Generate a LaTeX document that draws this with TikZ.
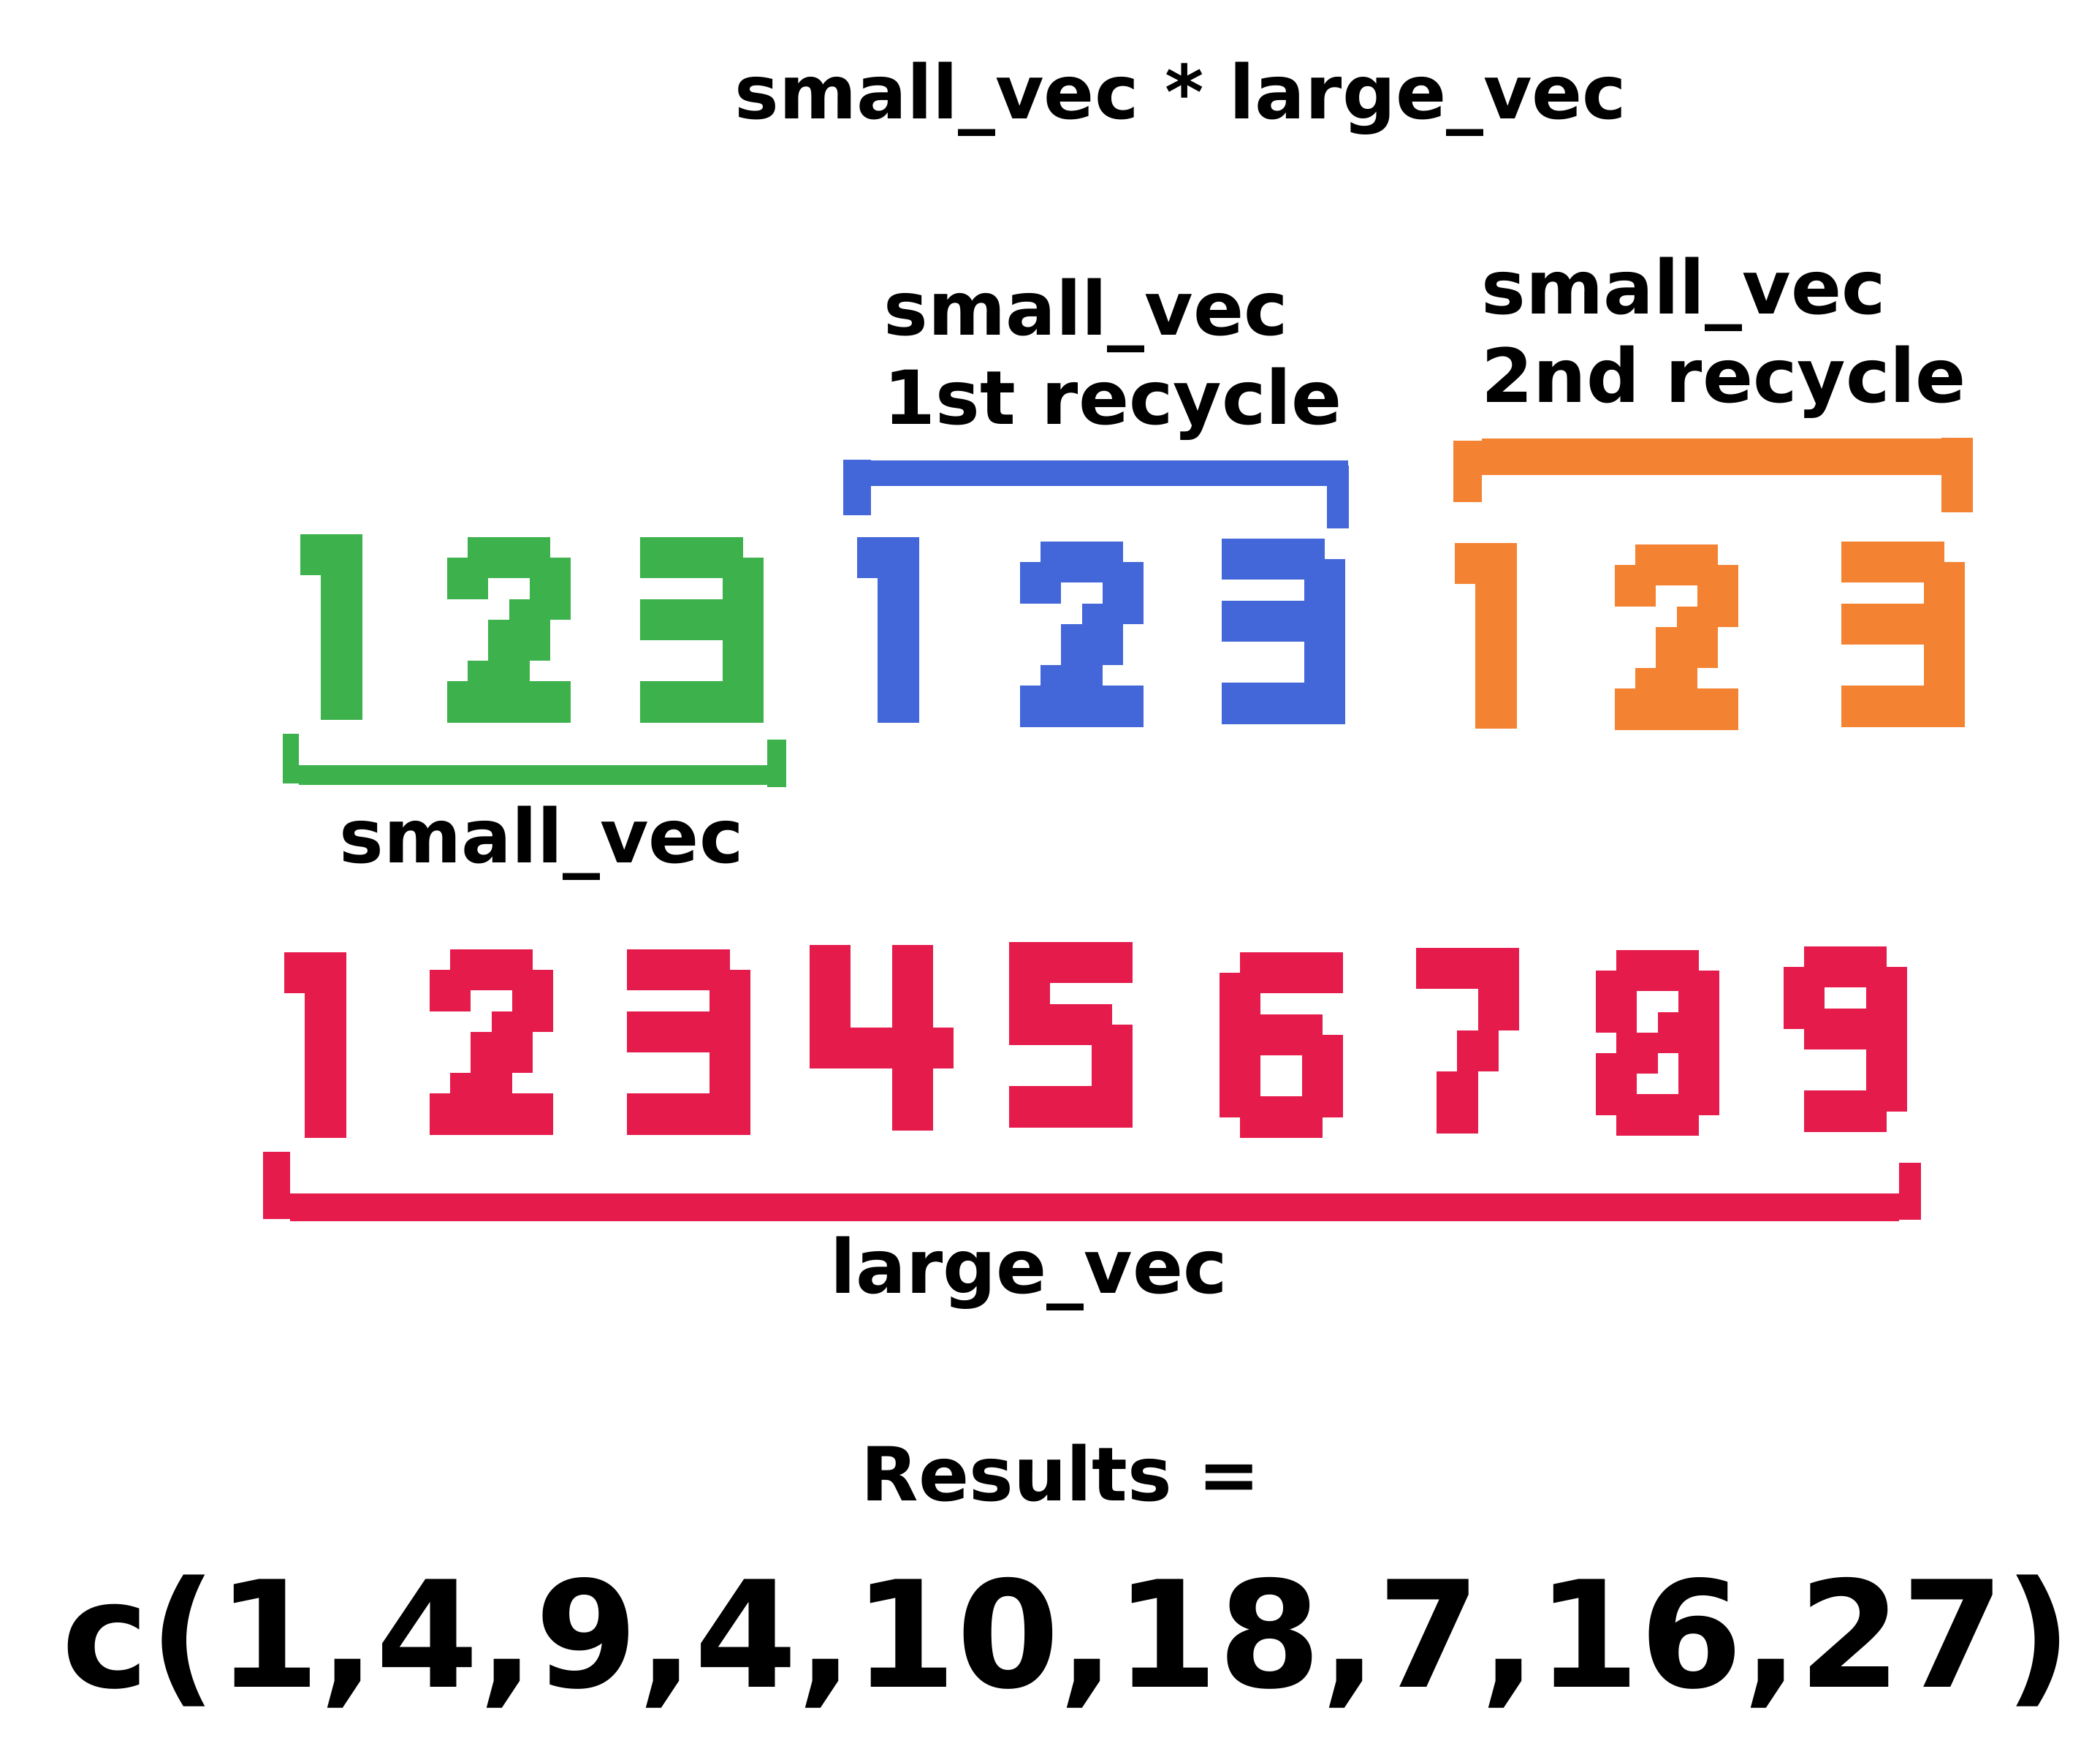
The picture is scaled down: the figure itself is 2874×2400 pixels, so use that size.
\documentclass[tikz,border=0pt]{standalone}
\usepackage{fontspec}
\setmainfont{DejaVu Sans}

\definecolor{vgreen}{RGB}{60,177,76}
\definecolor{vblue}{RGB}{67,102,216}
\definecolor{vorange}{RGB}{243,131,50}
\definecolor{vred}{RGB}{229,27,76}

\newcommand{\pixsz}{28.2}
\def\digone{0/0/3/2,1/2/3/9}
\def\digtwo{1/0/5/1,0/1/6/2,0/2/2/3,4/2/6/3,3/3/6/4,2/4/5/6,1/6/4/7,0/7/6/9}
\def\digthree{0/0/5/1,0/1/6/2,4/2/6/3,0/3/6/5,4/5/6/7,0/7/6/9}
\def\digfour{0/0/2/6,4/0/6/9,0/4/7/6}
\def\digfive{0/0/6/2,0/2/2/3,0/3/5/4,0/4/6/5,4/5/6/7,0/7/6/9}
\def\digsix{1/0/6/1,0/1/6/2,0/2/2/3,0/3/5/4,0/4/6/5,0/5/2/7,4/5/6/7,0/7/6/8,1/8/5/9}
\def\digseven{0/0/5/2,3/2/5/4,2/4/4/6,1/6/3/9}
\def\digeight{1/0/5/1,0/1/6/2,0/2/2/3,4/2/6/3,0/3/2/4,3/3/6/4,1/4/6/5,0/5/3/6,4/5/6/6,0/6/2/7,4/6/6/7,0/7/6/8,1/8/5/9}
\def\dignine{1/0/5/1,0/1/6/2,0/2/2/3,4/2/6/3,0/3/6/4,1/4/6/5,4/5/6/7,1/7/6/8,1/8/5/9}

\newcommand{\pixdigit}[4]{%
 \begin{scope}[shift={(#1,#2)}]
  \foreach \xa/\ya/\xb/\yb in #4 {\fill[#3] (\xa*\pixsz,\ya*\pixsz) rectangle (\xb*\pixsz,\yb*\pixsz);}
 \end{scope}}

\tikzset{
 lab/.style={font=\bfseries\fontsize{25.5}{30}\selectfont,inner sep=0pt},
 biglab/.style={font=\bfseries\fontsize{50.6}{60}\selectfont,inner sep=0pt}
}

\begin{document}
\begin{tikzpicture}[x=0.25pt,y=-0.25pt]
 \useasboundingbox (0,0) rectangle (2874,2400);

 \node[lab,anchor=base] (title) at (1616,162) {small\_vec * large\_vec};

 \node[lab,anchor=base west] (rec1a) at (1209,458) {small\_vec};
 \node[lab,anchor=base west] (rec1b) at (1209,580) {1st recycle};
 \node[lab,anchor=base west] (rec2a) at (2027,429) {small\_vec};
 \node[lab,anchor=base west] (rec2b) at (2027,550) {2nd recycle};

 \fill[vblue] (1154,629) rectangle (1192,705);
 \fill[vblue] (1192,630) rectangle (1845,665);
 \fill[vblue] (1816,637) rectangle (1846,723);
 \fill[vorange] (1989,603) rectangle (2028,687);
 \fill[vorange] (2028,600) rectangle (2657,650);
 \fill[vorange] (2657,599) rectangle (2700,701);

 \pixdigit{411}{731}{vgreen}{\digone}
 \pixdigit{612}{735}{vgreen}{\digtwo}
 \pixdigit{876}{735}{vgreen}{\digthree}
 \pixdigit{1173}{735}{vblue}{\digone}
 \pixdigit{1396}{741}{vblue}{\digtwo}
 \pixdigit{1672}{737}{vblue}{\digthree}
 \pixdigit{1991}{743}{vorange}{\digone}
 \pixdigit{2210}{745}{vorange}{\digtwo}
 \pixdigit{2520}{741}{vorange}{\digthree}

 \fill[vgreen] (387,1004) rectangle (409,1072);
 \fill[vgreen] (409,1047) rectangle (1050,1074);
 \fill[vgreen] (1050,1012) rectangle (1076,1077);
 \node[lab,anchor=base] (smalllab) at (741,1180) {small\_vec};

 \pixdigit{389}{1303}{vred}{\digone}
 \pixdigit{588}{1299}{vred}{\digtwo}
 \pixdigit{858}{1299}{vred}{\digthree}
 \pixdigit{1108}{1293}{vred}{\digfour}
 \pixdigit{1381}{1289}{vred}{\digfive}
 \pixdigit{1669}{1303}{vred}{\digsix}
 \pixdigit{1938}{1297}{vred}{\digseven}
 \pixdigit{2184}{1300}{vred}{\digeight}
 \pixdigit{2441}{1295}{vred}{\dignine}

 \fill[vred] (360,1576) rectangle (397,1668);
 \fill[vred] (397,1633) rectangle (2599,1671);
 \fill[vred] (2599,1591) rectangle (2629,1669);
 \node[lab,anchor=base] (largelab) at (1408,1769) {large\_vec};

 \node[lab,anchor=base] (reslab) at (1452,2053) {Results =};
 \node[biglab,anchor=base] (resvec) at (1460,2308) {c(1,4,9,4,10,18,7,16,27)};
\end{tikzpicture}
\end{document}
